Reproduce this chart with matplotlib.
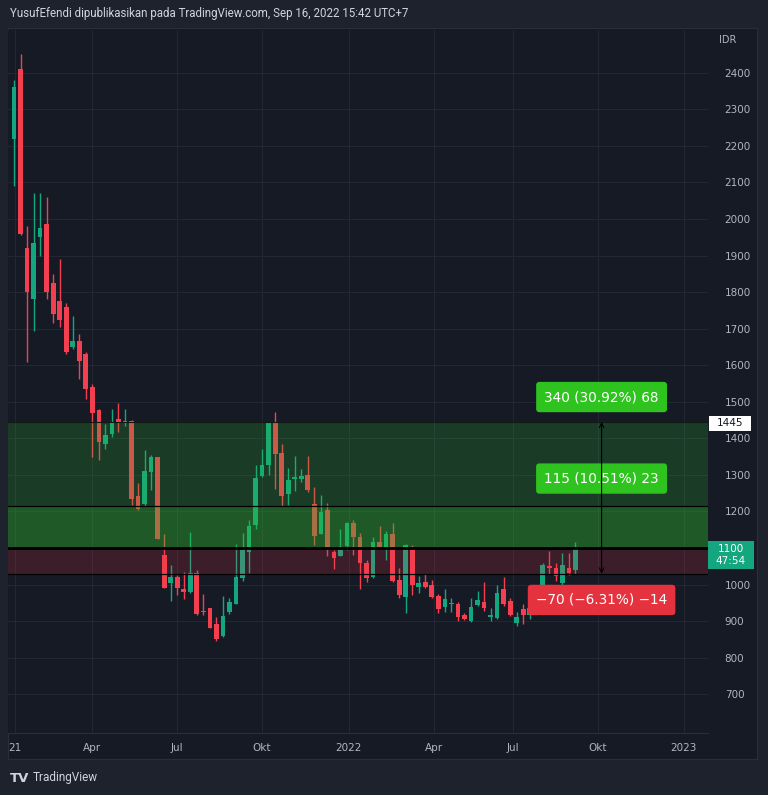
import numpy as np
import matplotlib.pyplot as plt
from matplotlib.patches import Rectangle

# weekly candles (IDR)
opens = [2220, 2410, 1920, 1780, 1950, 1985, 1825, 1775, 1760, 1650, 1665, 1630, 1540, 1478,
         1385, 1412, 1452, 1442, 1447, 1242, 1221, 1308, 1348, 1082, 1003, 1022, 988, 980,
         1033, 929, 935, 892, 860, 924, 948, 1017, 1088, 1162, 1297, 1328, 1442, 1360, 1247,
         1290, 1290, 1301, 1221, 1139, 1203, 1090, 1079, 1106, 1169, 1130, 1060, 1022, 1117,
         1099, 1137, 1012, 967, 1097, 994, 1006, 999, 969, 940, 946, 948, 917, 900, 944, 951,
         912, 909, 988, 955, 894, 933, 918, 935, 990, 1051, 1046, 1003, 1046, 1040]
highs = [2380, 2450, 1980, 2070, 2070, 2060, 1850, 1890, 1770, 1735, 1685, 1637, 1550, 1480,
         1440, 1480, 1497, 1480, 1450, 1278, 1367, 1355, 1350, 1137, 1053, 1026, 1035, 1145,
         1040, 973, 937, 912, 970, 963, 1112, 1142, 1176, 1328, 1370, 1443, 1471, 1385, 1320,
         1353, 1317, 1351, 1267, 1244, 1223, 1094, 1151, 1170, 1178, 1142, 1067, 1130, 1160,
         1146, 1169, 1044, 1112, 1108, 1024, 1028, 1012, 973, 988, 962, 951, 921, 962, 983, 1006,
         935, 999, 1022, 962, 924, 946, 945, 1000, 1060, 1091, 1060, 1087, 1087, 1117]
lows = [2090, 1955, 1610, 1695, 1900, 1780, 1715, 1705, 1630, 1645, 1562, 1508, 1350, 1340,
        1370, 1405, 1417, 1435, 1217, 1205, 1215, 1258, 1124, 990, 956, 971, 960, 978,
        918, 917, 880, 846, 857, 919, 946, 1010, 1033, 1153, 1295, 1300, 1261, 1215, 1217,
        1256, 1281, 1253, 1108, 1137, 1079, 1042, 1078, 1094, 1082, 989, 1008, 1017, 1098,
        1067, 1008, 962, 921, 971, 978, 990, 963, 921, 926, 926, 900, 902, 898, 942, 928,
        899, 907, 942, 915, 888, 891, 905, 925, 985, 1030, 1010, 998, 1026, 1030]
closes = [2360, 1960, 1800, 1935, 1975, 1800, 1740, 1725, 1635, 1667, 1612, 1535, 1470, 1390,
          1410, 1442, 1444, 1447, 1235, 1206, 1312, 1350, 1126, 992, 1022, 991, 980, 1033,
          920, 925, 882, 851, 914, 951, 1020, 1094, 1160, 1291, 1326, 1441, 1356, 1242, 1287,
          1293, 1297, 1258, 1133, 1199, 1101, 1073, 1094, 1169, 1130, 1060, 1018, 1117, 1101,
          1137, 1010, 971, 1108, 1000, 1003, 994, 965, 933, 960, 950, 912, 905, 940, 958, 935,
          918, 976, 948, 917, 912, 918, 935, 990, 1053, 1044, 1024, 1053, 1033, 1100]

tick_pos = [0.15, 11.9, 24.9, 38.0, 51.3, 64.3, 76.4, 89.4, 102.6]
tick_labels = ["21", "Apr", "Jul", "Okt", "2022", "Apr", "Jul", "Okt", "2023"]
price_ticks = list(range(700, 2500, 100))

entry = 1100
target1 = 1445
target2 = 1215
stop = 1030
label_up1 = "340 (30.92%) 68"
label_up2 = "115 (10.51%) 23"
label_down = "\u221270 (\u22126.31%) \u221214"

UP = "#14a77f"
DOWN = "#f33f4f"
TXT = "#b2b5be"

fig = plt.figure(figsize=(7.68, 7.95), dpi=100)
fig.patch.set_facecolor("#1e222d")
W, H = 768, 795

# chart pane background
pane = Rectangle((8 / W, 1 - 759 / H), 749 / W, 731 / H, transform=fig.transFigure,
                 facecolor="#161a25", edgecolor="#2a2e39", lw=0.8, zorder=-10)
fig.add_artist(pane)

ax = fig.add_axes([8 / W, 1 - 733 / H, 700 / W, 703 / H])
ax.set_facecolor("#161a25")

o = np.array(opens, dtype=float)
h = np.array(highs, dtype=float)
l = np.array(lows, dtype=float)
c = np.array(closes, dtype=float)
x = np.arange(len(o))
cols = np.where(c >= o, UP, DOWN)

ax.vlines(x, l, h, colors=cols, lw=1, zorder=2)
body = np.maximum(np.abs(c - o), 2.5)
ax.bar(x, body, bottom=np.minimum(o, c), width=0.72, color=cols, zorder=2)

# long position zones (two tools overlap between entry and 1215)
ax.axhspan(entry, target1, color="#2ec42e", alpha=0.2, lw=0, zorder=3)
ax.axhspan(entry, target2, color="#2ec42e", alpha=0.22, lw=0, zorder=3)
ax.axhspan(stop, entry, color="#f23645", alpha=0.17, lw=0, zorder=3)
ax.axhline(target1, color="#0e1a12", lw=0.8, zorder=4)
ax.axhline(target2, color="black", lw=0.9, zorder=4)
ax.axhline(stop, color="black", lw=0.9, zorder=4)
ax.axhline(entry, color="black", lw=2, zorder=4)

bx = 90.0
box_kw = dict(ha="center", va="center", color="white", fontsize=9.8, zorder=6)
ax.text(bx, 1513, label_up1, bbox=dict(boxstyle="round,pad=0.6,rounding_size=0.25",
                                       fc="#2fc31f", ec="none"), **box_kw)
ax.text(bx, 1290, label_up2, bbox=dict(boxstyle="round,pad=0.6,rounding_size=0.25",
                                       fc="#2fc31f", ec="none"), **box_kw)
ax.text(bx, 958, label_down, bbox=dict(boxstyle="round,pad=0.6,rounding_size=0.25",
                                       fc="#e5323f", ec="none"), **box_kw)
ax.annotate("", xy=(bx, target1), xytext=(bx, stop),
            arrowprops=dict(arrowstyle="<->", color="black", lw=0.8,
                            shrinkA=0, shrinkB=0, mutation_scale=8), zorder=7)

ax.set_xlim(-0.92, 106.3)
ax.set_ylim(594, 2517)

ax.set_xticks(tick_pos)
ax.set_xticklabels(tick_labels)
ax.set_yticks(price_ticks)
# the 1100 label sits under the last-price marker
ax.set_yticklabels(["" if p == entry else str(p) for p in price_ticks])
ax.yaxis.tick_right()
ax.tick_params(axis="both", length=0, colors=TXT, labelsize=7.5)
ax.tick_params(axis="y", pad=12)
ax.tick_params(axis="x", pad=7)
ax.grid(True, color="#232733", lw=0.8, zorder=0)
for s in ax.spines.values():
    s.set_visible(False)
ax.spines["bottom"].set_visible(True)
ax.spines["bottom"].set_color("#2a2e39")

# price scale markers
fig.add_artist(Rectangle((709 / W, 1 - 431 / H), 42 / W, 15 / H, transform=fig.transFigure,
                         facecolor="white", edgecolor="none", zorder=5))
fig.text(730 / W, 1 - 423.5 / H, "1445", ha="center", va="center", fontsize=7.5,
         color="#131722", zorder=6)
fig.add_artist(Rectangle((708 / W, 1 - 569 / H), 46 / W, 28 / H, transform=fig.transFigure,
                         facecolor=UP, edgecolor="none", zorder=5))
fig.text(731 / W, 1 - 555 / H, "1100\n47:54", ha="center", va="center", fontsize=7.5,
         color="white", linespacing=1.15, zorder=6)
fig.text(728 / W, 1 - 40 / H, "IDR", ha="center", va="center", fontsize=7, color=TXT)

fig.text(10 / W, 1 - 14 / H,
         "YusufEfendi dipublikasikan pada TradingView.com, Sep 16, 2022 15:42 UTC+7",
         ha="left", va="center", fontsize=8.3, color="#d1d4dc", family="Roboto")
fig.text(10 / W, 1 - 778 / H, "TV", ha="left", va="center", fontsize=9.5,
         fontweight="bold", color="#d1d4dc")
fig.text(33 / W, 1 - 778 / H, "TradingView", ha="left", va="center", fontsize=8.5,
         color="#d1d4dc", family="Roboto")

fig.savefig("out.png", dpi=100, facecolor=fig.get_facecolor())
